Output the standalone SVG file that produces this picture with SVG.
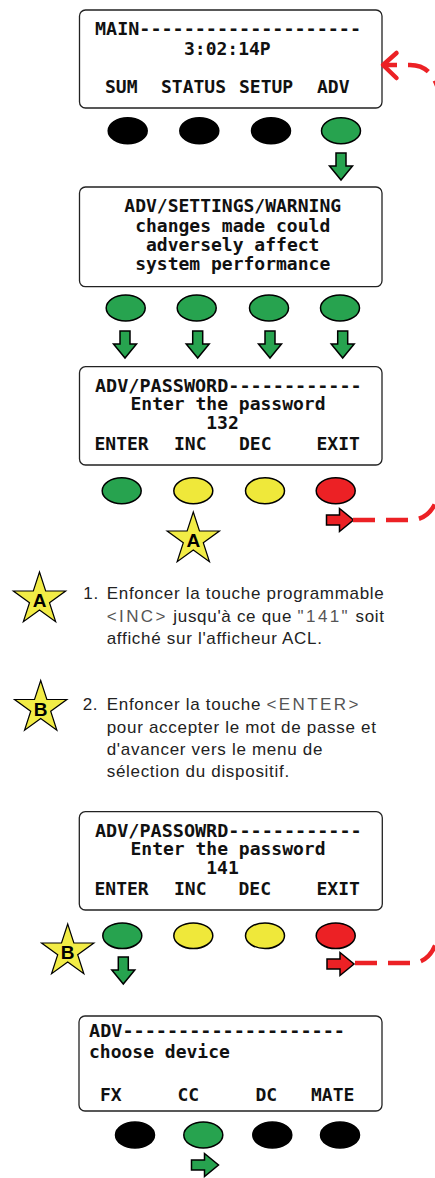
<svg xmlns="http://www.w3.org/2000/svg" xmlns:xlink="http://www.w3.org/1999/xlink" width="435" height="1178" viewBox="0 0 435 1178">
<style>
.scr{fill:#fff;stroke:#222;stroke-width:1.3}
.lcd{font-family:"DejaVu Sans Mono","Liberation Mono",monospace;font-size:18px;font-weight:bold;fill:#111}
.mid{text-anchor:middle}
.btn{stroke:#000;stroke-width:1.5}
.k{fill:#000}.g{fill:#27a34f}.y{fill:#efe83a}.r{fill:#ec2125}
.arr{stroke:#000;stroke-width:1.5;stroke-linejoin:miter}
.star{fill:#f2ec46;stroke:#000;stroke-width:1.2}
.slbl{font-family:"Liberation Sans",Arial,sans-serif;font-size:19px;font-weight:bold;fill:#000;text-anchor:middle}
.para{font-family:"Liberation Sans",Arial,sans-serif;font-size:17px;fill:#222;letter-spacing:0.7px}
.key{fill:#555;letter-spacing:2.4px}
.dash{fill:none;stroke:#ec2125;stroke-width:4.5;stroke-dasharray:22 11}
</style>
<defs>
<path id="down" d="M-5,0 H5 V13 H11.5 L0,27 L-11.5,13 H-5 Z"/>
<path id="right" d="M0,-5 V5 H13 V11.5 L27,0 L13,-11.5 V-5 Z"/>
<path id="starp" d="M0,-27.5 L6.17,-8.49 L26.15,-8.5 L9.99,3.24 L16.16,22.25 L0,10.5 L-16.16,22.25 L-9.99,3.24 L-26.15,-8.5 L-6.17,-8.49 Z"/>
</defs>

<g id="screen-main">
<rect class="scr" x="79.5" y="10" width="302.5" height="98" rx="6"/>
<text class="lcd" x="95" y="35" textLength="266" lengthAdjust="spacingAndGlyphs">MAIN--------------------</text>
<text class="lcd" x="184" y="54.5">3:02:14P</text>
<text class="lcd" x="105" y="92.7">SUM</text>
<text class="lcd" x="161" y="92.7">STATUS</text>
<text class="lcd" x="239" y="92.7">SETUP</text>
<text class="lcd" x="317" y="92.7">ADV</text>
</g>
<g id="buttons-main">
<ellipse class="btn k" cx="127.7" cy="130.7" rx="19.5" ry="13"/>
<ellipse class="btn k" cx="199.3" cy="130.7" rx="19.5" ry="13"/>
<ellipse class="btn k" cx="271" cy="130.7" rx="19.5" ry="13"/>
<ellipse class="btn g" cx="341" cy="130.7" rx="19.5" ry="13"/>
<use href="#down" class="arr g" transform="translate(341,153)"/>
</g>

<g id="screen-warning">
<rect class="scr" x="79.5" y="187" width="302.5" height="99.7" rx="6"/>
<text class="lcd mid" x="232.7" y="212.3">ADV/SETTINGS/WARNING</text>
<text class="lcd mid" x="232.7" y="231.8">changes made could</text>
<text class="lcd mid" x="232.7" y="250.6">adversely affect</text>
<text class="lcd mid" x="232.7" y="270">system performance</text>
</g>
<g id="buttons-warning">
<ellipse class="btn g" cx="125.7" cy="308" rx="19.5" ry="13"/>
<ellipse class="btn g" cx="196.7" cy="308" rx="19.5" ry="13"/>
<ellipse class="btn g" cx="269" cy="308" rx="19.5" ry="13"/>
<ellipse class="btn g" cx="340" cy="308" rx="19.5" ry="13"/>
<use href="#down" class="arr g" transform="translate(125,331)"/>
<use href="#down" class="arr g" transform="translate(197.7,331)"/>
<use href="#down" class="arr g" transform="translate(270,331)"/>
<use href="#down" class="arr g" transform="translate(342.7,331)"/>
</g>

<g id="screen-password-132">
<rect class="scr" x="79.5" y="366.7" width="302.5" height="98.3" rx="6"/>
<text class="lcd" x="95" y="391.7" textLength="266.7" lengthAdjust="spacingAndGlyphs">ADV/PASSWORD------------</text>
<text class="lcd mid" x="228" y="410">Enter the password</text>
<text class="lcd mid" x="222.5" y="429.3">132</text>
<text class="lcd" x="94.5" y="450">ENTER</text>
<text class="lcd" x="174" y="450">INC</text>
<text class="lcd" x="239" y="450">DEC</text>
<text class="lcd" x="316.5" y="450">EXIT</text>
</g>
<g id="buttons-password-132">
<ellipse class="btn g" cx="121.7" cy="490.7" rx="19.5" ry="13"/>
<ellipse class="btn y" cx="193.3" cy="490.7" rx="19.5" ry="13"/>
<ellipse class="btn y" cx="265" cy="490.7" rx="19.5" ry="13"/>
<ellipse class="btn r" cx="335.7" cy="490.7" rx="19.5" ry="13"/>
<use href="#right" class="arr r" transform="translate(326.5,520)"/>
</g>
<g id="star-a-key">
<use href="#starp" class="star" transform="translate(193.3,539.5)"/>
<text class="slbl" x="193.3" y="547">A</text>
</g>

<g id="step-1">
<use href="#starp" class="star" transform="translate(39.5,599.5)"/>
<text class="slbl" x="39.5" y="607">A</text>
<text class="para" x="83.3" y="599.3">1.</text>
<text class="para" x="106.7" y="599.3">Enfoncer la touche programmable</text>
<text class="para" x="106.7" y="621.7"><tspan class="key">&lt;INC&gt;</tspan> jusqu'à ce que <tspan class="key">"141"</tspan> soit</text>
<text class="para" x="106.7" y="643.5">affiché sur l'afficheur ACL.</text>
</g>

<g id="step-2">
<use href="#starp" class="star" transform="translate(40.7,708)"/>
<text class="slbl" x="40.7" y="715.5">B</text>
<text class="para" x="82.7" y="710">2.</text>
<text class="para" x="106.7" y="710">Enfoncer la touche <tspan class="key">&lt;ENTER&gt;</tspan></text>
<text class="para" x="106.7" y="732.7">pour accepter le mot de passe et</text>
<text class="para" x="106.7" y="755">d'avancer vers le menu de</text>
<text class="para" x="106.7" y="776.7">sélection du dispositif.</text>
</g>

<g id="screen-password-141">
<rect class="scr" x="79.3" y="811.7" width="303" height="98.3" rx="6"/>
<text class="lcd" x="95" y="836.7" textLength="266.7" lengthAdjust="spacingAndGlyphs">ADV/PASSOWRD------------</text>
<text class="lcd mid" x="228" y="855">Enter the password</text>
<text class="lcd mid" x="222.5" y="874">141</text>
<text class="lcd" x="94.5" y="895">ENTER</text>
<text class="lcd" x="174" y="895">INC</text>
<text class="lcd" x="238.5" y="895">DEC</text>
<text class="lcd" x="316.5" y="895">EXIT</text>
</g>
<g id="buttons-password-141">
<ellipse class="btn g" cx="122.3" cy="935.7" rx="19.5" ry="12.8"/>
<ellipse class="btn y" cx="193.3" cy="935.7" rx="19.5" ry="12.8"/>
<ellipse class="btn y" cx="265" cy="935.7" rx="19.5" ry="12.8"/>
<ellipse class="btn r" cx="335.7" cy="935.7" rx="19.5" ry="12.8"/>
<use href="#down" class="arr g" transform="translate(123.3,957)"/>
<use href="#right" class="arr r" transform="translate(327,964)"/>
</g>
<g id="star-b-key">
<use href="#starp" class="star" transform="translate(67.7,951.5)"/>
<text class="slbl" x="67.7" y="959">B</text>
</g>

<g id="screen-device">
<rect class="scr" x="79" y="1016" width="303" height="95" rx="6"/>
<text class="lcd" x="89" y="1036.7" textLength="256" lengthAdjust="spacingAndGlyphs">ADV--------------------</text>
<text class="lcd" x="89" y="1058.3">choose device</text>
<text class="lcd" x="100" y="1100.7">FX</text>
<text class="lcd" x="177.5" y="1100.7">CC</text>
<text class="lcd" x="255.5" y="1100.7">DC</text>
<text class="lcd" x="311" y="1100.7">MATE</text>
</g>
<g id="buttons-device">
<ellipse class="btn k" cx="135" cy="1135" rx="19.5" ry="13"/>
<ellipse class="btn g" cx="203.3" cy="1135" rx="19.5" ry="13"/>
<ellipse class="btn k" cx="272.3" cy="1135" rx="19.5" ry="13"/>
<ellipse class="btn k" cx="340" cy="1135" rx="19.5" ry="13"/>
<use href="#right" class="arr g" transform="translate(191.5,1165)"/>
</g>

<g id="connectors">
<path class="dash" d="M353,520 H410 C426,520 436,510 441,485 V300"/>
<path class="dash" d="M355,963 H411 C427,963 436,952 441,925 V800"/>
<path class="dash" style="stroke-dashoffset:8" d="M383,65 H410 C424,65 434,72 440,95 V300"/>
<polyline points="396.5,53 383,65 396.5,78" fill="none" stroke="#ec2125" stroke-width="4.5" stroke-linecap="round" stroke-linejoin="round"/>
</g>
</svg>
